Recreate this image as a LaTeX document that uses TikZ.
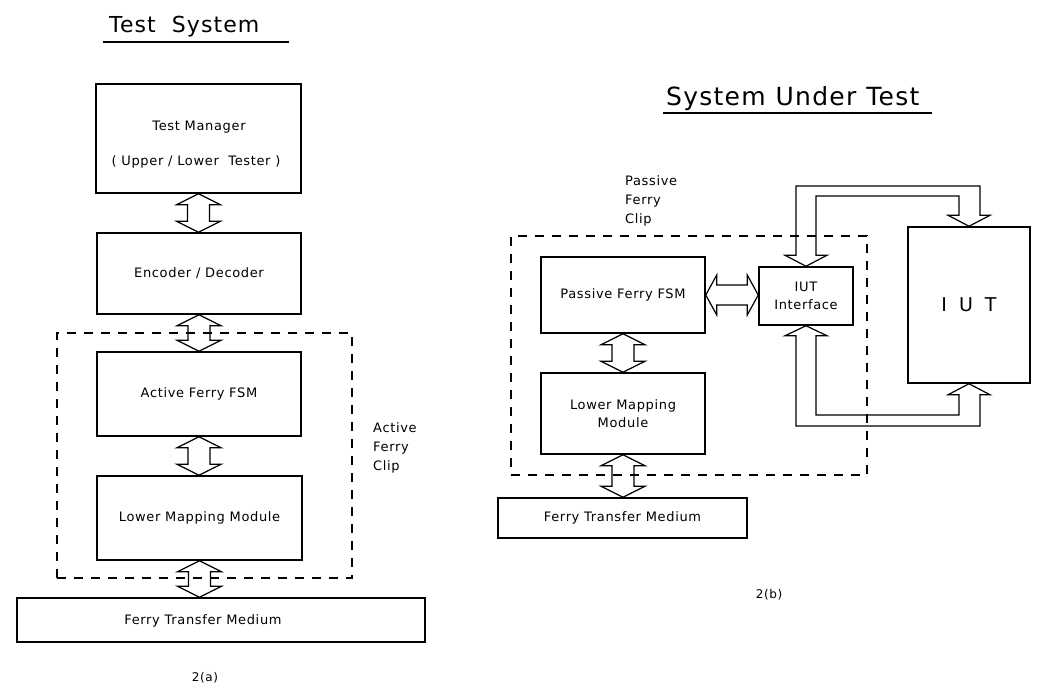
\documentclass[tikz,border=0pt]{standalone}
\usepackage{fontspec}
\setmainfont{DejaVu Sans}[LetterSpace=5]
\usetikzlibrary{calc}
\newcommand{\vdarr}[2]{%
  \draw[conn] let \p1=(#1.south), \p2=(#2.north) in
   (\x1,\y1) -- (\x1+22pt,\y1-11pt) -- (\x1+11pt,\y1-11pt) -- (\x1+11pt,\y2+11pt)
   -- (\x1+22pt,\y2+11pt) -- (\x1,\y2) -- (\x1-22pt,\y2+11pt) -- (\x1-11pt,\y2+11pt)
   -- (\x1-11pt,\y1-11pt) -- (\x1-22pt,\y1-11pt) -- cycle;}
\newcommand{\hdarr}[2]{%
  \draw[conn] let \p1=(#1.east), \p2=(#2.west) in
   (\x1,\y1) -- (\x1+11pt,\y1+20pt) -- (\x1+11pt,\y1+10pt) -- (\x2-11pt,\y1+10pt)
   -- (\x2-11pt,\y1+20pt) -- (\x2,\y1) -- (\x2-11pt,\y1-20pt) -- (\x2-11pt,\y1-10pt)
   -- (\x1+11pt,\y1-10pt) -- (\x1+11pt,\y1-20pt) -- cycle;}
\begin{document}
\begin{tikzpicture}[x=1pt,y=-1pt,
  box/.style={draw, line width=1.5pt, inner sep=0pt, align=center,
    font=\fontsize{13}{18}\selectfont},
  dashbox/.style={draw, line width=1.3pt, dash pattern=on 9pt off 8pt, inner sep=0pt},
  conn/.style={draw, line width=1.2pt, line join=miter},
  lbl/.style={inner sep=0pt, font=\fontsize{13}{18}\selectfont},
  side/.style={inner sep=0pt, align=left, anchor=north west, font=\fontsize{13}{19}\selectfont},
  figcap/.style={inner sep=0pt, font=\fontsize{12}{14}\selectfont},
  titletxt/.style={inner sep=0pt, anchor=base west}]
\useasboundingbox (0,0) rectangle (1038,688);
\fill[white] (0,0) rectangle (1038,688);

% ---------- left: Test System ----------
\node[titletxt, font=\fontsize{22}{26}\selectfont] (ts) at (109,32) {Test\hspace{16pt}System};
\draw[line width=1.5pt] (103,42) -- (289,42);

\node[box, minimum width=205pt, minimum height=109pt] (tm) at (198.5,138.5) {};
\node[lbl] (tmA) at (199,127) {Test Manager};
\node[lbl] (tmB) at (196,162) {(\ Upper\ /\ Lower\ \ Tester\ )};
\node[box, minimum width=204pt, minimum height=81pt] (enc) at (199,273.5) {Encoder / Decoder};
\node[box, minimum width=204pt, minimum height=84pt] (afsm) at (199,394) {Active Ferry FSM};
\node[box, minimum width=205pt, minimum height=84pt] (lmm) at (199.5,518) {Lower Mapping Module};
\node[box, minimum width=408pt, minimum height=44pt] (ftma) at (221,620) {};
\node[lbl] (ftmatxt) at (203,621) {Ferry Transfer Medium};
\node[dashbox, minimum width=295pt, minimum height=245pt] (clipa) at (204.5,455.5) {};
\node[side] (clipatxt) at (373,422) {Active\\Ferry\\Clip};
\node[figcap] (cap_a) at (205,678) {2(a)};

\vdarr{tm}{enc}
\vdarr{enc}{afsm}
\vdarr{afsm}{lmm}
\vdarr{lmm}{ftma}

% ---------- right: System Under Test ----------
\node[titletxt, font=\fontsize{25}{30}\selectfont] (sut) at (666,105) {System\hspace{10pt}Under\hspace{10pt}Test};
\draw[line width=1.5pt] (663,113) -- (932,113);

\node[side] (clipbtxt) at (625,175) {Passive\\Ferry\\Clip};
\node[dashbox, minimum width=356pt, minimum height=239pt] (clipb) at (689,355.5) {};
\node[box, minimum width=164pt, minimum height=76pt] (pfsm) at (623,295) {Passive Ferry FSM};
\node[box, minimum width=164pt, minimum height=81pt] (lmmb) at (623,413.5) {Lower Mapping\\Module};
\node[box, minimum width=249pt, minimum height=40pt] (ftmb) at (622.5,518) {Ferry Transfer Medium};
\node[box, minimum width=94pt, minimum height=58pt] (iface) at (806,296) {IUT\\Interface};
\node[box, minimum width=122pt, minimum height=156pt, font=\fontsize{19}{22}\selectfont] (iut) at (969,305) {I\hspace{12pt}U\hspace{12pt}T};
\node[figcap] (cap_b) at (769,595) {2(b)};

\vdarr{pfsm}{lmmb}
\vdarr{lmmb}{ftmb}
\hdarr{pfsm}{iface}

\coordinate (utop) at (0,186);
\coordinate (ubot) at (0,426);
\draw[conn] let \p1=(iface.north), \p2=(iut.north), \p3=(utop) in
  (\x1,\y1) -- (\x1-21pt,\y1+11pt) -- (\x1-10pt,\y1+11pt) -- (\x1-10pt,\y3)
  -- (\x2+11pt,\y3) -- (\x2+11pt,\y2+11pt) -- (\x2+21pt,\y2+11pt) -- (\x2,\y2)
  -- (\x2-21pt,\y2+11pt) -- (\x2-10pt,\y2+11pt) -- (\x2-10pt,\y3-10pt)
  -- (\x1+10pt,\y3-10pt) -- (\x1+10pt,\y1+11pt) -- (\x1+21pt,\y1+11pt) -- cycle;
\draw[conn] let \p1=(iface.south), \p2=(iut.south), \p3=(ubot) in
  (\x1,\y1) -- (\x1-21pt,\y1-10pt) -- (\x1-10pt,\y1-10pt) -- (\x1-10pt,\y3)
  -- (\x2+11pt,\y3) -- (\x2+11pt,\y2-11pt) -- (\x2+21pt,\y2-11pt) -- (\x2,\y2)
  -- (\x2-21pt,\y2-11pt) -- (\x2-10pt,\y2-11pt) -- (\x2-10pt,\y3+11pt)
  -- (\x1+10pt,\y3+11pt) -- (\x1+10pt,\y1-10pt) -- (\x1+21pt,\y1-10pt) -- cycle;
\end{tikzpicture}
\end{document}
